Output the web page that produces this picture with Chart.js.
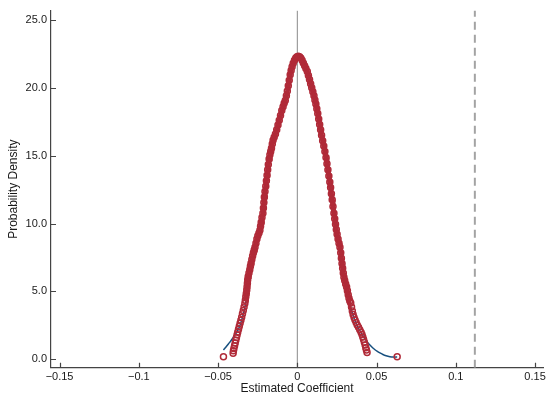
<!DOCTYPE html>
<html>
<head>
<meta charset="utf-8">
<script src="https://cdn.jsdelivr.net/npm/chart.js@4.4.1/dist/chart.umd.min.js"></script>
<style>
html,body{margin:0;padding:0;background:#fff;}
#wrap{width:550px;height:399px;}
</style>
</head>
<body>
<div id="wrap"><canvas id="c" width="550" height="399"></canvas></div>
<script>
// ---- data ----
const xTicks = [-0.15, -0.1, -0.05, 0, 0.05, 0.1, 0.15];
const xTickLabels = ['\u22120.15', '\u22120.1', '\u22120.05', '0', '0.05', '0.1', '0.15'];
const yTicks = [0, 5, 10, 15, 20, 25];
const yTickLabels = ['0.0', '5.0', '10.0', '15.0', '20.0', '25.0'];

// simulated coefficients (red hollow circles): x = coefficient, y = density
const redX = [-0.0466,-0.0405,-0.0403,-0.0400,-0.0396,-0.0392,-0.0388,-0.0384,-0.0380,-0.0376,
  -0.0371,-0.0366,-0.0361,-0.0356,-0.0351,-0.0346,-0.0341,-0.0336,-0.0331,-0.0328,
  -0.0325,-0.0322,-0.0319,-0.0317,-0.0315,-0.0313,-0.0310,-0.0305,-0.0300,-0.0296,
  -0.0292,-0.0287,-0.0282,-0.0277,-0.0272,-0.0267,-0.0261,-0.0255,-0.0249,-0.0242,
  -0.0236,-0.0232,-0.0228,-0.0223,-0.0217,-0.0214,-0.0211,-0.0208,-0.0204,-0.0199,
  -0.0195,-0.0191,-0.0187,-0.0183,-0.0178,-0.0173,-0.0168,-0.0163,-0.0158,-0.0153,
  -0.0146,-0.0138,-0.0130,-0.0122,-0.0114,-0.0106,-0.0098,-0.0090,-0.0083,-0.0076,
  -0.0069,-0.0063,-0.0057,-0.0051,-0.0045,-0.0039,-0.0033,-0.0026,-0.0018,-0.0010,
  -0.0002,0.0006,0.0014,0.0022,0.0030,0.0038,0.0046,0.0054,0.0063,0.0070,
  0.0077,0.0084,0.0091,0.0098,0.0105,0.0111,0.0117,0.0123,0.0129,0.0135,
  0.0141,0.0147,0.0153,0.0160,0.0167,0.0174,0.0181,0.0187,0.0193,0.0199,
  0.0205,0.0210,0.0215,0.0220,0.0225,0.0231,0.0236,0.0241,0.0246,0.0251,
  0.0257,0.0263,0.0269,0.0274,0.0278,0.0282,0.0286,0.0290,0.0294,0.0299,
  0.0305,0.0311,0.0316,0.0321,0.0326,0.0331,0.0337,0.0342,0.0347,0.0352,
  0.0358,0.0364,0.0371,0.0378,0.0386,0.0394,0.0402,0.0408,0.0413,0.0418,
  0.0423,0.0428,0.0432,0.0436,0.0440,0.0630];
const redY = [0.19,0.45,0.62,0.80,1.00,1.20,1.40,1.60,1.80,2.00,
  2.22,2.44,2.66,2.88,3.10,3.35,3.60,3.85,4.10,4.35,
  4.60,4.85,5.10,5.35,5.60,5.85,6.10,6.35,6.60,6.85,
  7.08,7.35,7.60,7.85,8.05,8.26,8.55,8.85,9.10,9.30,
  9.50,9.80,10.10,10.45,10.76,11.15,11.55,11.95,12.35,12.75,
  13.15,13.55,13.95,14.35,14.75,15.07,15.30,15.55,15.85,16.13,
  16.35,16.60,16.90,17.25,17.60,17.95,18.33,18.60,18.85,19.06,
  19.40,19.75,20.15,20.55,20.95,21.27,21.55,21.80,22.02,22.18,
  22.28,22.32,22.28,22.18,22.02,21.82,21.62,21.42,21.20,20.90,
  20.60,20.30,20.00,19.70,19.40,19.10,18.80,18.45,18.10,17.70,
  17.30,16.90,16.50,16.10,15.70,15.30,14.87,14.40,13.95,13.50,
  13.05,12.65,12.20,11.75,11.25,10.76,10.35,9.95,9.55,9.20,
  8.85,8.55,8.26,7.85,7.45,7.05,6.70,6.35,6.05,5.80,
  5.55,5.32,5.05,4.75,4.50,4.30,4.14,3.85,3.55,3.30,
  3.08,2.89,2.70,2.52,2.35,2.18,2.00,1.82,1.64,1.45,
  1.25,1.05,0.85,0.68,0.50,0.19];

// kernel density curve (dark blue line)
const kdeX = [-0.0466,-0.0450,-0.0435,-0.0420,-0.0403,-0.0388,-0.0372,-0.0356,-0.0340,-0.0325,
  -0.0310,-0.0295,-0.0280,-0.0265,-0.0250,-0.0235,-0.0220,-0.0205,-0.0190,-0.0175,
  -0.0160,-0.0145,-0.0130,-0.0115,-0.0100,-0.0085,-0.0070,-0.0055,-0.0040,-0.0025,
  -0.0010,0.0005,0.0020,0.0035,0.0050,0.0065,0.0080,0.0095,0.0110,0.0125,
  0.0140,0.0155,0.0170,0.0185,0.0200,0.0215,0.0230,0.0245,0.0260,0.0275,
  0.0290,0.0305,0.0320,0.0335,0.0350,0.0365,0.0380,0.0395,0.0410,0.0425,
  0.0440,0.0458,0.0475,0.0490,0.0505,0.0521,0.0540,0.0560,0.0584,0.0605,0.0630];
const kdeY = [0.68,0.90,1.13,1.35,1.62,1.88,2.20,2.70,3.35,4.20,
  5.15,6.20,7.40,8.30,9.00,9.80,11.00,12.30,13.60,14.90,
  15.80,16.40,16.90,17.50,18.10,18.80,19.50,20.30,21.20,21.80,
  22.20,22.30,22.20,21.95,21.60,21.10,20.45,19.75,19.05,18.30,
  17.40,16.40,15.40,14.40,13.30,12.10,10.90,9.70,8.60,7.50,
  6.40,5.40,4.60,3.90,3.30,2.80,2.40,2.10,1.82,1.55,
  1.30,1.05,0.85,0.70,0.58,0.47,0.35,0.26,0.19,0.16,0.16];

// reference lines
const zeroLineX = [0, 0];
const trueLineX = [0.112, 0.112];
const refLineY = [-0.62, 25.68];

// axis ranges
const xMin = -0.1554, xMax = 0.155;
const yMin = -0.62, yMax = 25.68;

const pts = (xs, ys) => xs.map((x, i) => ({x: x, y: ys[i]}));
const RED = '#b02a38';
const BLUE = '#17507f';
const AXIS = '#444444';
const FONT = "'Liberation Sans', Arial, Helvetica, sans-serif";

const inwardTicks = {
  id: 'inwardTicks',
  afterDraw(chart) {
    const {ctx, chartArea, scales} = chart;
    ctx.save();
    ctx.strokeStyle = AXIS;
    ctx.lineWidth = 1.2;
    ctx.beginPath();
    scales.x.ticks.forEach((t) => {
      const px = Math.round(scales.x.getPixelForValue(t.value)) + 0.5;
      ctx.moveTo(px, chartArea.bottom);
      ctx.lineTo(px, chartArea.bottom - 5);
    });
    scales.y.ticks.forEach((t) => {
      const py = Math.round(scales.y.getPixelForValue(t.value)) + 0.5;
      ctx.moveTo(chartArea.left, py);
      ctx.lineTo(chartArea.left + 5, py);
    });
    ctx.stroke();
    ctx.restore();
  }
};

new Chart(document.getElementById('c'), {
  type: 'scatter',
  data: {
    datasets: [
      {
        label: 'simulated',
        data: pts(redX, redY),
        showLine: true,
        borderColor: RED,
        borderWidth: 5,
        segment: {
          borderColor: (c) => (c.p0.parsed.y < 4.6 && c.p1.parsed.y < 4.6) ? 'rgba(0,0,0,0)' : RED
        },
        pointRadius: 3,
        pointBorderWidth: 1.5,
        pointBorderColor: RED,
        pointBackgroundColor: 'rgba(0,0,0,0)',
        order: 0
      },
      {
        label: 'kdensity',
        data: pts(kdeX, kdeY),
        showLine: true,
        borderColor: BLUE,
        borderWidth: 1.5,
        pointRadius: 0,
        tension: 0.3,
        order: 1
      },
      {
        label: 'zero',
        data: pts(zeroLineX, refLineY),
        showLine: true,
        borderColor: '#8a8a8a',
        borderWidth: 1,
        pointRadius: 0,
        order: 2
      },
      {
        label: 'true',
        data: pts(trueLineX, refLineY),
        showLine: true,
        borderColor: '#a3a3a3',
        borderWidth: 2,
        borderDash: [8, 5],
        pointRadius: 0,
        order: 3
      }
    ]
  },
  options: {
    responsive: false,
    devicePixelRatio: 1,
    animation: false,
    events: [],
    layout: {padding: {top: 10, right: 7, left: 0, bottom: 0}},
    plugins: {legend: {display: false}, tooltip: {enabled: false}},
    scales: {
      x: {
        type: 'linear',
        min: xMin, max: xMax,
        afterBuildTicks: (s) => { s.ticks = xTicks.map(v => ({value: v})); },
        afterFit: (s) => { s.height = 31.3; },
        grid: {display: true, drawOnChartArea: false, drawTicks: false},
        border: {display: true, color: AXIS, width: 1.2},
        ticks: {
          padding: 3,
          maxRotation: 0,
          autoSkip: false,
          color: '#1a1a1a',
          font: {family: FONT, size: 11},
          callback: (v) => { const i = xTicks.findIndex(t => Math.abs(t - v) < 1e-9); return i >= 0 ? xTickLabels[i] : ''; }
        },
        title: {display: true, text: 'Estimated Coefficient', color: '#1a1a1a',
          font: {family: FONT, size: 12}, padding: {top: 0, bottom: 2.8}}
      },
      y: {
        type: 'linear',
        min: yMin, max: yMax,
        afterBuildTicks: (s) => { s.ticks = yTicks.map(v => ({value: v})); },
        afterFit: (s) => { s.width = 51; },
        grid: {display: true, drawOnChartArea: false, drawTicks: false},
        border: {display: true, color: AXIS, width: 1.2},
        ticks: {
          padding: 4,
          autoSkip: false,
          color: '#1a1a1a',
          font: {family: FONT, size: 11},
          callback: (v) => { const i = yTicks.findIndex(t => Math.abs(t - v) < 1e-9); return i >= 0 ? yTickLabels[i] : ''; }
        },
        title: {display: true, text: 'Probability Density', color: '#1a1a1a',
          font: {family: FONT, size: 12}, padding: {top: 6.8, bottom: 0}}
      }
    }
  },
  plugins: [inwardTicks]
});
</script>
</body>
</html>
